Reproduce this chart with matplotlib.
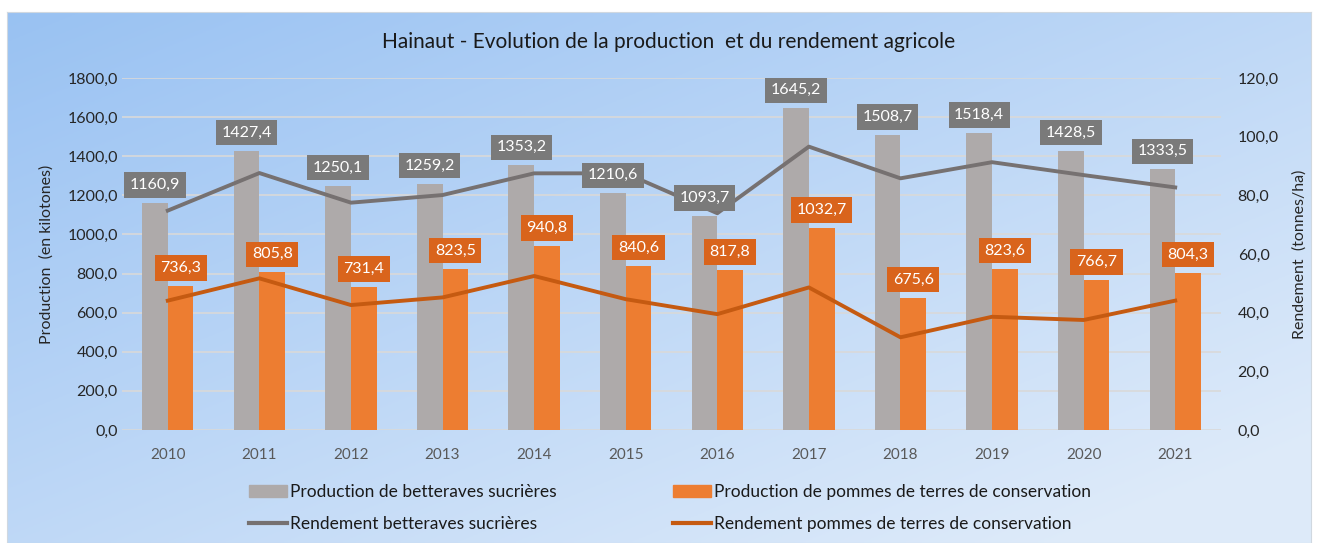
import numpy as np
import matplotlib
matplotlib.use("Agg")
import matplotlib.pyplot as plt
from matplotlib.patches import Patch
from matplotlib.lines import Line2D

plt.rcParams['font.family'] = ['Lato', 'DejaVu Sans']

years = ['2010', '2011', '2012', '2013', '2014', '2015', '2016', '2017', '2018', '2019', '2020', '2021']
prod_betteraves = [1160.9, 1427.4, 1250.1, 1259.2, 1353.2, 1210.6, 1093.7, 1645.2, 1508.7, 1518.4, 1428.5, 1333.5]
prod_pommes = [736.3, 805.8, 731.4, 823.5, 940.8, 840.6, 817.8, 1032.7, 675.6, 823.6, 766.7, 804.3]
rend_betteraves = [74.8, 87.6, 77.5, 80.1, 87.5, 87.5, 73.9, 96.6, 85.8, 91.3, 86.9, 82.7]
rend_pommes = [44.1, 51.7, 42.6, 45.2, 52.5, 44.6, 39.5, 48.6, 31.6, 38.6, 37.5, 44.1]

grey_bar = '#aeaaaa'
orange_bar = '#ed7d31'
grey_line = '#767171'
orange_line = '#c55a11'

fig = plt.figure(figsize=(13.18, 5.43), dpi=100)

# gradient background, darker top-left to lighter bottom-right
bg = fig.add_axes([7/1318, 0, 1 - 14/1318, 1 - 12/543], zorder=-10)
yy, xx = np.mgrid[0:1:200j, 0:1:400j]
t = np.clip(0.55 * xx + 0.55 * yy, 0, 1)
c0 = np.array([0.60, 0.76, 0.95])
c1 = np.array([0.87, 0.92, 0.98])
img = c0[None, None, :] * (1 - t[..., None]) + c1[None, None, :] * t[..., None]
bg.imshow(img, aspect='auto', extent=[0, 1, 0, 1], origin='upper')
bg.set_xlim(0, 1)
bg.set_ylim(0, 1)
bg.set_xticks([])
bg.set_yticks([])
for s in bg.spines.values():
    s.set_color('#d0d8e0')

ax = fig.add_axes([122/1318, 1 - 430/543, (1221 - 122)/1318, 352/543])
ax.set_facecolor('none')
x = np.arange(len(years))
w = 0.28
ax.bar(x - w/2, prod_betteraves, w, color=grey_bar, zorder=2)
ax.bar(x + w/2, prod_pommes, w, color=orange_bar, zorder=2)
ax.set_xlim(-0.5, len(years) - 0.5)
ax.set_ylim(0, 1800)
ax.set_yticks(np.arange(0, 1801, 200))
ax.set_yticklabels([f"{v:.1f}".replace('.', ',') for v in np.arange(0, 1801, 200)], fontsize=11.5, color='#262626')
ax.set_xticks(x)
ax.set_xticklabels(years, fontsize=11, color='#595959')
ax.tick_params(length=0, pad=13)
ax.tick_params(axis='y', pad=3)
ax.grid(axis='y', color='#d9d9d9', linewidth=1.2, zorder=0)
ax.set_axisbelow(True)
for s in ax.spines.values():
    s.set_visible(False)
ax.set_ylabel('Production  (en kilotones)', fontsize=11.5, color='#262626', labelpad=10)

ax2 = ax.twinx()
ax2.plot(x, rend_betteraves, color=grey_line, linewidth=2.8, zorder=3)
ax2.plot(x, rend_pommes, color=orange_line, linewidth=2.8, zorder=3)
ax2.set_ylim(0, 120)
ax2.set_yticks(np.arange(0, 121, 20))
ax2.set_yticklabels([f"{v:.1f}".replace('.', ',') for v in np.arange(0, 121, 20)], fontsize=11.5, color='#262626')
ax2.tick_params(length=0, pad=12)
for s in ax2.spines.values():
    s.set_visible(False)
ax2.set_ylabel('Rendement  (tonnes/ha)', fontsize=11.5, color='#262626', labelpad=10)

# data labels on top of everything
lab = fig.add_axes(ax.get_position(), zorder=5)
lab.set_xlim(ax.get_xlim())
lab.set_ylim(ax.get_ylim())
lab.axis('off')
for i in range(len(years)):
    lab.annotate(f"{prod_betteraves[i]:.1f}".replace('.', ','), (x[i] - w/2, prod_betteraves[i]),
                 xytext=(0, 13), textcoords='offset points', ha='center', va='center',
                 fontsize=11.5, color='white',
                 bbox=dict(boxstyle='square,pad=0.35', fc='#7a7a7a', ec='none'))
    lab.annotate(f"{prod_pommes[i]:.1f}".replace('.', ','), (x[i] + w/2, prod_pommes[i]),
                 xytext=(0, 13), textcoords='offset points', ha='center', va='center',
                 fontsize=11.5, color='white',
                 bbox=dict(boxstyle='square,pad=0.35', fc='#d9641c', ec='none'))

fig.text(0.507, 1 - 42/543, 'Hainaut - Evolution de la production  et du rendement agricole',
         ha='center', va='center', fontsize=15, color='#1a1a1a')

h1 = [Patch(color=grey_bar), Line2D([0], [0], color=grey_line, linewidth=3)]
l1 = ['Production de betteraves sucrières', 'Rendement betteraves sucrières']
h2 = [Patch(color=orange_bar), Line2D([0], [0], color=orange_line, linewidth=3)]
l2 = ['Production de pommes de terres de conservation', 'Rendement pommes de terres de conservation']
leg1 = fig.legend(h1, l1, loc='center left', bbox_to_anchor=(233/1318, 1 - 508/543), frameon=False,
                  fontsize=12.5, handlelength=2.2, handletextpad=0.2, labelspacing=0.95)
leg2 = fig.legend(h2, l2, loc='center left', bbox_to_anchor=(657/1318, 1 - 508/543), frameon=False,
                  fontsize=12.5, handlelength=2.2, handletextpad=0.2, labelspacing=0.95)
for leg in (leg1, leg2):
    for t_ in leg.get_texts():
        t_.set_color('#1a1a1a')

fig.savefig('out.png', dpi=100)
